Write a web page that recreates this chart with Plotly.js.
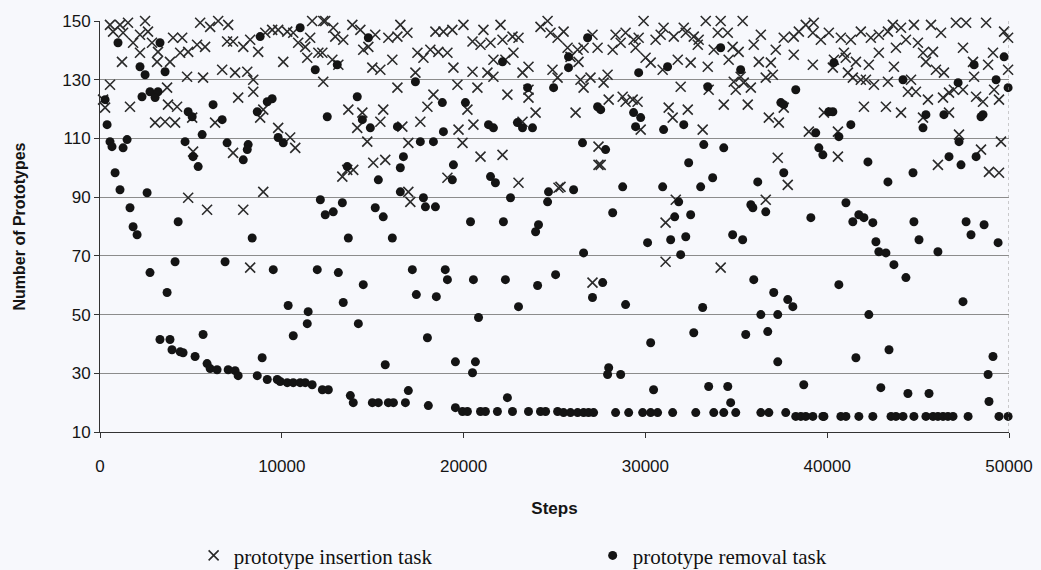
<!DOCTYPE html>
<html>
<head>
<meta charset="utf-8">
<script src="https://cdn.plot.ly/plotly-3.0.1.min.js"></script>
<style>
html,body{margin:0;padding:0;background:#f7f8fc;}
#chart{width:1041px;height:570px;}
</style>
</head>
<body>
<div id="chart"></div>
<script>
// Prototype insertion task (crosses): [step, number of prototypes]
const insertionSteps = [550,1100,1540,2480,720,1270,2200,2640,1820,2860,2200,3190,3850,3140,1210,4020,4520,4410,4850,5340,5780,5510,6060,6500,7050,6990,7320,7880,8260,8700,9090,9470,9800,10300,10630,10900,11290,11560,12010,11670,12280,10080,11400,550,280,170,1650,4790,5670,6720,7430,8100,8430,8430,7600,3690,3740,4240,3030,3580,4130,5070,6330,8980,8810,9800,10460,10740,5120,7320,4850,5890,7880,8980,12280,8260,
12390,12830,12940,13380,13880,14320,15140,15860,16360,16520,16910,14480,14760,12230,12780,13110,14980,15420,16080,17460,17790,18170,18610,19110,18450,18890,19380,19990,21090,22030,20490,20930,21480,22140,22690,23020,22740,21640,22300,19440,20490,21310,21640,23240,23570,24230,24620,24780,25170,24890,25170,17350,16360,18340,19660,20760,22410,23570,23570,23960,18010,20210,13660,14430,15580,15420,14150,14700,16630,17620,16960,19720,19940,20540,23240,15030,15690,13600,13330,13930,19110,20930,22140,23020,16960,17070,25220,
29900,33320,34140,35350,25500,25720,26270,26600,27090,27370,28360,28910,29350,28200,28640,29630,29460,30560,31000,30840,31560,32110,32220,32660,32930,32880,33980,34530,33760,34800,35130,35960,36350,37170,37610,30010,30290,30950,31780,32490,33430,34580,35240,36240,36900,36620,37010,25880,26320,26430,26600,26980,27700,27920,31940,33480,34860,34970,35410,35800,27980,28750,28910,29300,29570,26160,31280,31500,32330,34310,35630,36790,37340,37610,29740,33150,27420,27420,27540,37280,37830,25330,31670,31110,36620,31110,34140,27090,
38160,38440,38820,39260,39210,39650,40090,40750,41300,41850,42400,42840,43340,43610,44060,44330,44770,44990,45710,46260,47080,47640,48740,49730,49950,38160,39210,40920,41020,40370,40310,41580,42290,42840,43780,43670,45270,45820,45430,45980,46420,47470,48020,48850,49120,49950,41140,41410,41850,42130,42570,43340,44610,44440,44880,45540,46370,46700,46970,47470,48080,48190,48570,49180,49450,39820,42020,43230,44060,45270,46700,38990,40590,47250,49560,40590,48460,46090,48900,49450];
const insertionCounts = [148.7,148.7,149.4,150,146.4,146,145.3,146.4,142.6,142.6,139.2,139.5,136.1,136.1,136.1,144.3,144.3,139.2,139.5,141.9,141.2,149.4,148,150,148.7,143,143,141.2,143.6,139.5,146,147,147,146.4,146,142.6,141.2,144.3,139.2,150,150,136.1,137.5,128.3,120.5,123.2,120.8,131,130.7,133.4,132.4,132.7,130,125.9,123.9,127.3,121.5,120.8,115.4,115.7,115.4,117.1,115.4,119.8,117.1,113.6,110.3,106.8,105.5,105.1,89.8,85.7,85.7,91.8,129.3,66,
150,147.7,144.7,143.6,148.7,147,145.3,144.3,144.7,148.7,146,140.2,141.2,139.2,136.8,135.1,134.1,133.4,136.8,139.2,137.5,140.2,139.5,139.2,146.4,146.4,147,148.7,147,148.7,143,141.9,142.6,143.6,144.7,144.3,139.2,136.8,136.8,134.1,132.7,132.4,131,132.4,134.4,148,150,146,144.3,133.4,130.7,132.4,127.3,124.9,128.3,127.3,124.9,123.9,126.6,118.8,120.8,119.8,119.8,118.8,119.8,115.7,113.6,108.9,114,115.7,108.5,113,108.5,114.7,115.7,101.7,102.7,99.3,97,99.3,96.6,103.8,104.4,94.9,91.8,88.4,93.2,
150,150,150,150,146.4,140.9,140.2,140.9,145.3,140.9,145.3,146,143.6,140.2,142.6,144.3,140.9,143.6,147.7,145.3,144.7,147.7,146,144.7,143.6,141.9,146,146,140.2,141.2,139.5,141.9,145.3,140.2,144.3,137.5,135.8,133.4,136.8,135.8,134.4,136.8,131,136.1,135.8,130.7,131.7,137.8,136.1,130,127.3,130.7,129,131.7,127.6,126.6,129.3,126.6,129,127.3,123.2,124.2,122.5,123.2,122.5,118.8,120.5,117.1,119.8,121.5,121.5,117.1,115.4,120.5,113,113,107.2,101,101,103.4,94.2,93.5,89.1,81.3,89.1,68,66,60.9,
144.7,146.4,148.7,149.4,146,143.6,146,144.3,143.6,146.4,144.3,145.3,146.4,148.7,147.7,143.6,148.7,142.6,148.7,146,149.4,149.4,149.4,146.4,144.3,138.5,135.1,139.2,137.5,136.8,134.1,136.1,135.1,139.2,140.9,134.4,139.2,139.5,136.1,133.4,132.4,140.9,136.1,135.1,139.2,133.4,132.4,130.7,130,130,128.3,129.3,130,125.9,125.9,123.2,123.9,125.6,126.6,126.6,131,124.2,122.5,126.6,123.2,118.8,120.8,120.8,118.8,117.1,118.8,112.3,112.3,111.3,108.9,103.8,106.2,101,98.6,98.3];

// Prototype removal task (dots): [step, number of prototypes]
const removalSteps = [990,3300,2200,2480,3580,8810,11010,11840,280,390,2310,2750,3190,3030,4850,5070,6220,6720,5620,8650,9200,9470,550,660,1270,1490,4680,5120,5400,6990,7880,8150,8100,9800,10080,12500,830,1100,1650,1820,2040,2590,4300,12120,12390,
8370,4130,6880,9530,11950,2750,3690,10350,11450,11400,10630,3300,3850,3960,4410,4570,5670,5230,5890,6060,6440,7050,7430,7600,8920,8650,9200,9750,9910,10300,10630,11010,11290,11670,12230,12560,
14760,13050,22140,17350,23520,24950,14150,18830,20100,14430,14870,16360,18890,21370,21640,22960,23240,23790,17620,18340,16690,16520,19440,13600,15310,19380,21480,21750,16520,17790,17900,18450,12830,13330,15140,15580,22580,24670,24620,20380,22190,24120,23960,
13660,16080,13110,14480,17180,18990,19110,20540,22300,24070,25060,13380,17400,18500,23020,20820,14210,18010,15690,19550,20650,20490,13770,13930,14980,15310,15860,16140,16800,16960,18060,19550,19940,20210,20930,21200,21860,22410,22690,23570,24230,24510,25170,
26820,34140,25770,25770,31220,29630,35240,33430,27370,27540,29350,29740,29460,31000,32110,37450,26540,27810,33210,34310,32380,37610,33700,36180,26050,28750,30950,33040,31830,35800,35910,36620,28200,31610,32490,
30120,31390,32220,34800,35350,26600,31940,27650,27090,28910,33150,35960,37060,37830,36350,37280,32660,35520,36730,30290,37280,27980,27920,28640,30450,33480,34530,34690,25500,25880,26270,26600,26870,27150,28360,29080,29850,30290,30670,31500,32770,33760,34310,34970,36350,36790,37720,
40370,44170,47200,48080,49730,49290,49950,38270,37610,40090,40310,45430,46420,48460,48570,41300,45270,39370,40640,47250,39540,39760,42240,46700,48190,47360,44720,43340,41030,39100,41410,41740,42020,42510,44770,47640,48630,42680,42840,43230,45050,46090,47910,49400,43670,44330,40640,38110,47470,42290,43400,41580,49120,48850,38710,42950,44440,45600,48900,
38270,38550,38820,39210,39760,39820,40750,41030,41740,42510,43510,43780,44170,44770,45430,45820,46090,46370,46640,46920,47750,49450,49950];
const removalCounts = [142.6,142.6,134.4,131.7,132.7,144.7,147.7,133.4,123.2,114.7,124.2,125.9,125.9,123.9,119.1,117.4,121.5,116.4,111.3,119.1,122.5,123.5,108.9,107.2,106.8,109.6,108.9,103.8,100.4,108.5,102.7,107.9,106.2,110.3,108.5,117.4,98.3,92.5,86.4,79.9,77.2,91.5,81.6,89.1,84,
76.1,68,68,65.3,65.3,64.3,57.5,53.1,51,46.9,42.8,41.5,41.5,38,37.3,37,43.2,35.7,33.3,31.6,31.2,31.2,30.9,29.2,35.3,29.2,27.9,27.9,27.2,26.8,26.8,26.8,26.8,26.1,24.4,24.4,
144.3,135.1,136.1,129.3,127.3,127.3,124.2,122.2,122.2,116.4,113.6,114,112.3,114.7,113.6,115.4,113.6,113.6,108.9,108.9,103.8,100,101,100.4,95.9,95.9,97,94.9,91.8,89.8,86.7,86.7,85,88.1,86.4,83.3,89.8,91.8,88.4,81.6,81.6,80.6,78.2,
76.1,76.1,64.3,60.2,65.3,65.3,61.9,61.9,61.9,59.9,63.6,54.1,56.8,56.1,52.7,49,46.9,42.1,32.9,33.9,33.9,30.2,22.4,20,20,20,20,20,20,24.1,19,18.3,17,17,17,17,17,21.7,17,17,17,17,17,
144.3,140.9,137.8,134.1,134.4,132.4,133.4,127.6,120.8,119.8,118.8,117.1,114,113,114.7,122.2,108.5,106.2,107.9,106.8,101.7,98.3,96.6,95.2,92.5,93.5,93.5,93.5,88.4,87.4,86.4,85,84.7,83.3,84,
74.5,75.5,76.5,77.2,75.5,71,70.4,60.9,55.8,53.4,52.4,61.9,57.5,55.1,50,50,43.8,43.2,44.2,40.4,33.9,31.9,29.6,29.6,24.4,25.5,25.5,20,16.6,16.6,16.6,16.6,16.6,16.6,16.6,16.6,16.6,16.6,16.6,16.6,16.6,16.6,16.6,16.6,16.6,16.6,16.6,
135.8,130,129,135.1,137.8,130,127.3,126.6,121.5,119.1,119.1,118.1,118.1,117.4,118.1,114.7,113.6,111.9,110.6,108.9,106.8,104.4,102,103.8,103.8,101,98.3,95.2,88.1,83,81.6,84,83,81.3,81.6,81.6,80.6,74.8,71.4,71,75.5,71.4,77.2,74.5,67,62.6,60.2,52.7,54.4,50,38,35.3,35.7,29.6,26.1,25.1,23.1,23.1,20.4,
15.3,15.3,15.3,15.3,15.3,15.3,15.3,15.3,15.3,15.3,15.3,15.3,15.3,15.3,15.3,15.3,15.3,15.3,15.3,15.3,15.3,15.3,15.3];

const xTicks = [0,10000,20000,30000,40000,50000];
const yTicks = [10,30,50,70,90,110,130,150];
const seriesNames = ['prototype insertion task','prototype removal task'];

const traces = [
  {
    type:'scatter', mode:'markers', name:seriesNames[0], legend:'legend',
    x:insertionSteps, y:insertionCounts, cliponaxis:false,
    marker:{symbol:'x-thin-open', size:10, color:'#2b2b2b', line:{width:1.6, color:'#2b2b2b'}}
  },
  {
    type:'scatter', mode:'markers', name:seriesNames[1], legend:'legend2',
    x:removalSteps, y:removalCounts, cliponaxis:false,
    marker:{symbol:'circle', size:9, color:'#141414'}
  }
];

const axisFont = {family:'Liberation Sans, Arial, sans-serif', size:17, color:'#151515'};
const legendFont = {family:'Liberation Serif, Times New Roman, serif', size:21, color:'#111'};

const layout = {
  width:1041, height:570,
  paper_bgcolor:'#f7f8fc', plot_bgcolor:'#f7f8fc',
  margin:{l:100, r:32, t:21, b:138, pad:0},
  showlegend:true,
  legend:{
    orientation:'h', xref:'paper', x:0.103, xanchor:'left', yref:'container', y:0.025, yanchor:'middle',
    font:legendFont, bgcolor:'rgba(0,0,0,0)', itemclick:false
  },
  legend2:{
    orientation:'h', xref:'paper', x:0.542, xanchor:'left', yref:'container', y:0.025, yanchor:'middle',
    font:legendFont, bgcolor:'rgba(0,0,0,0)', itemclick:false
  },
  xaxis:{
    range:[0,50000], tickvals:xTicks, ticktext:xTicks.map(String),
    showgrid:false, zeroline:false, showline:true, linecolor:'#333', linewidth:1,
    ticks:'outside', ticklen:5, tickcolor:'#333',
    tickfont:axisFont, ticklabelstandoff:14,
    title:{text:'<b>Steps</b>', font:{family:'Liberation Sans, Arial, sans-serif', size:17, color:'#151515'}, standoff:26}
  },
  yaxis:{
    range:[10,150], tickvals:yTicks, ticktext:yTicks.map(String),
    showgrid:true, gridcolor:'#8c8c8c', gridwidth:1,
    zeroline:false, showline:true, linecolor:'#333', linewidth:1,
    ticks:'outside', ticklen:5, tickcolor:'#333',
    tickfont:axisFont,
    title:{text:'<b>Number of Prototypes</b>', font:{family:'Liberation Sans, Arial, sans-serif', size:16, color:'#151515'}, standoff:32}
  },
  shapes:[
    {type:'line', xref:'x', yref:'y', x0:50000, x1:50000, y0:10, y1:150, line:{color:'#9a9a9a', width:1, dash:'dot'}}
  ]
};

Plotly.newPlot('chart', traces, layout, {displayModeBar:false, staticPlot:true});
</script>
</body>
</html>
